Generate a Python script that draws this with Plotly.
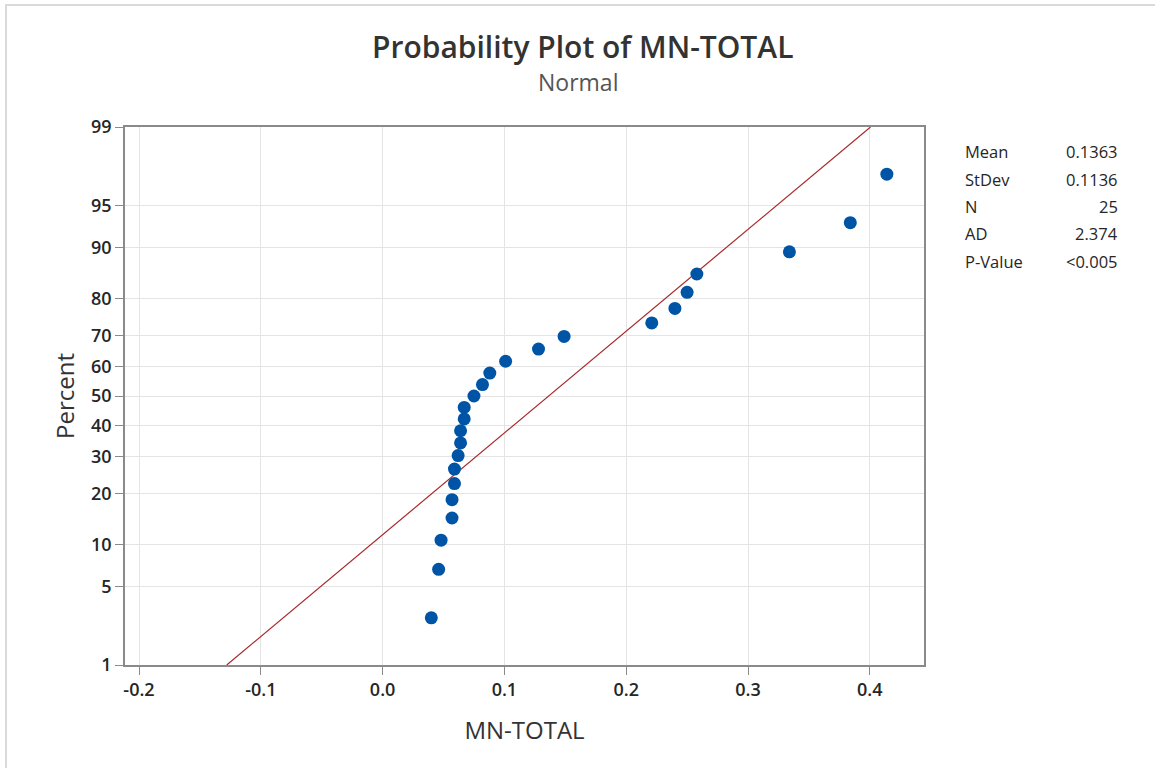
import plotly.graph_objects as go
from statistics import NormalDist

# MN-TOTAL observations (sorted)
mn_total = [0.040, 0.046, 0.048, 0.057, 0.057, 0.059, 0.059, 0.062, 0.064, 0.064,
            0.067, 0.067, 0.075, 0.082, 0.088, 0.101, 0.128, 0.149, 0.221, 0.240,
            0.250, 0.258, 0.334, 0.384, 0.414]

# Summary statistics shown in the side table
stat_names = ["Mean", "StDev", "N", "AD", "P-Value"]
stat_values = ["0.1363", "0.1136", "25", "2.374", "<0.005"]
fit_mean = 0.1363
fit_sd = 0.1136

# Percent ticks on the normal probability scale
pct_ticks = [1, 5, 10, 20, 30, 40, 50, 60, 70, 80, 90, 95, 99]
x_ticks = [-0.2, -0.1, 0.0, 0.1, 0.2, 0.3, 0.4]

nd = NormalDist()
n = len(mn_total)
# Median ranks (Benard) mapped to standard normal quantiles
z_pts = [nd.inv_cdf((i + 1 - 0.3) / (n + 0.4)) for i in range(n)]
z_ticks = [nd.inv_cdf(p / 100) for p in pct_ticks]
z_lo, z_hi = z_ticks[0], z_ticks[-1]

W, H = 1155, 768
L, R, T, B = 125, 231, 127, 103
pw, ph = W - L - R, H - T - B

fig = go.Figure()

# Fitted normal line across the full percent range
fig.add_trace(go.Scatter(
    x=[fit_mean + z_lo * fit_sd, fit_mean + z_hi * fit_sd],
    y=[z_lo, z_hi],
    mode="lines",
    line=dict(color="#A8282A", width=1.2),
    hoverinfo="skip",
    showlegend=False,
))

fig.add_trace(go.Scatter(
    x=mn_total,
    y=z_pts,
    mode="markers",
    marker=dict(color="#0054A6", size=13, line=dict(width=0)),
    showlegend=False,
))

font_family = "Open Sans, Noto Sans, sans-serif"
text_col = "#262626"

fig.update_xaxes(
    range=[-0.2115, 0.4445],
    tickvals=x_ticks,
    ticktext=[f"{v:.1f}" for v in x_ticks],
    showgrid=True, gridcolor="#E4E4E4", gridwidth=1,
    zeroline=False,
    showline=True, linecolor="#8A8A8A", linewidth=1.5, mirror=True,
    ticks="outside", ticklen=8, tickcolor="#8A8A8A", tickwidth=1,
    tickfont=dict(size=18, color=text_col, family=font_family, weight=600),
    title=dict(text="MN-TOTAL", font=dict(size=24, color="#333333", family=font_family), standoff=22),
)
fig.update_yaxes(
    range=[z_lo, z_hi],
    tickvals=z_ticks,
    ticktext=[str(p) for p in pct_ticks],
    showgrid=True, gridcolor="#E4E4E4", gridwidth=1,
    zeroline=False,
    showline=True, linecolor="#8A8A8A", linewidth=1.5, mirror=True,
    ticks="outside", ticklen=8, tickcolor="#8A8A8A", tickwidth=1,
    tickfont=dict(size=18, color=text_col, family=font_family, weight=600),
    title=dict(text="Percent", font=dict(size=24, color="#333333", family=font_family), standoff=10),
)

def px_x(p):
    return (p - L) / pw

def px_y(p):
    return (H - B - p) / ph

annotations = [
    dict(text="Probability Plot of MN-TOTAL", x=(W / 2 + 5 - L) / pw, y=px_y(47),
         xref="paper", yref="paper", showarrow=False, xanchor="center", yanchor="middle",
         font=dict(size=30, color="#333333", family=font_family, weight=600)),
    dict(text="Normal", x=(W / 2 - L) / pw, y=px_y(82),
         xref="paper", yref="paper", showarrow=False, xanchor="center", yanchor="middle",
         font=dict(size=23, color="#555555", family=font_family)),
]
row_y = [151, 179, 206, 233, 261]
for name, val, yy in zip(stat_names, stat_values, row_y):
    annotations.append(dict(text=name, x=px_x(963), y=px_y(yy), xref="paper", yref="paper",
                            showarrow=False, xanchor="left", yanchor="middle",
                            font=dict(size=16.5, color=text_col, family=font_family, weight=500)))
    annotations.append(dict(text=val, x=px_x(1120), y=px_y(yy), xref="paper", yref="paper",
                            showarrow=False, xanchor="right", yanchor="middle",
                            font=dict(size=16.5, color=text_col, family=font_family, weight=500)))

fig.update_layout(
    width=W, height=H,
    margin=dict(l=L, r=R, t=T, b=B),
    paper_bgcolor="white", plot_bgcolor="white",
    annotations=annotations,
    shapes=[dict(type="rect", xref="paper", yref="paper",
                 x0=px_x(6), y0=px_y(H + 20), x1=px_x(W + 20), y1=px_y(5),
                 line=dict(color="#DADADA", width=2), layer="below")],
)

fig.write_html("out.html")
